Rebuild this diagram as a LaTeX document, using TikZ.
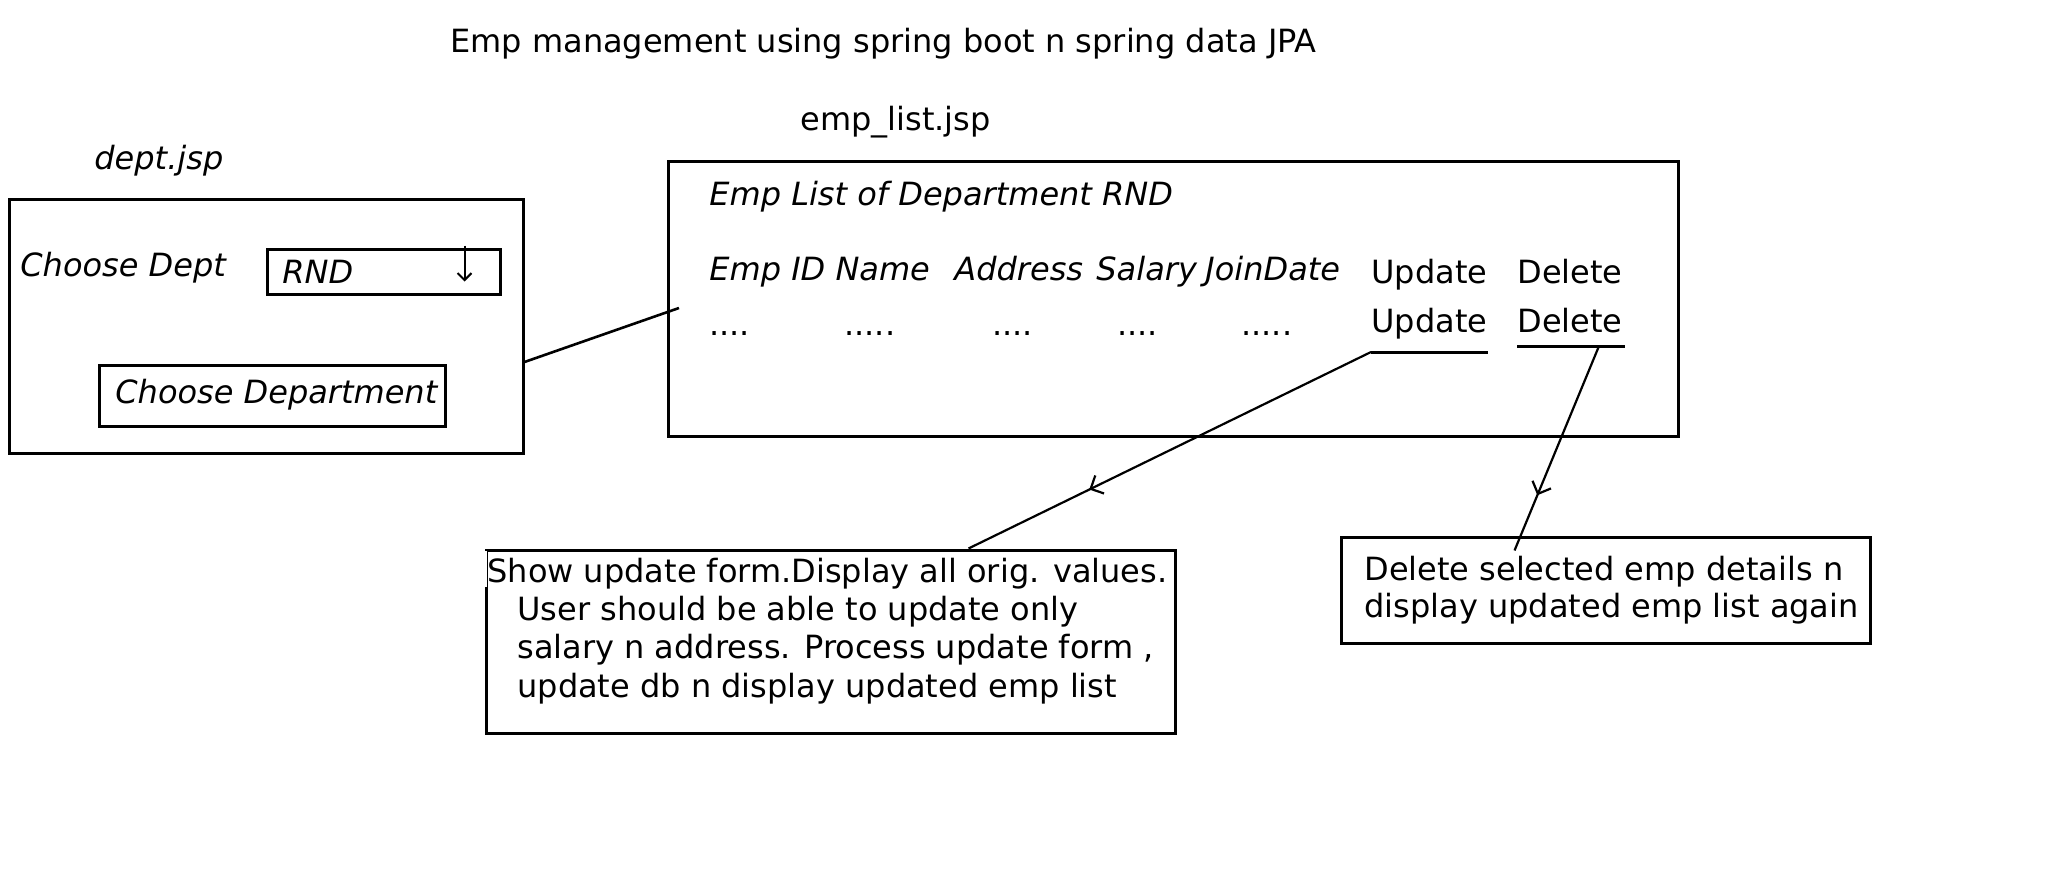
\documentclass[tikz,border=0pt]{standalone}
\usepackage{fontspec}
\setmainfont{DejaVu Sans}
\usetikzlibrary{arrows.meta,decorations.markings,positioning,calc}

\begin{document}
\begin{tikzpicture}[x=0.5pt,y=-0.5pt,
    txt/.style={anchor=base west, inner sep=0pt, font=\fontsize{16}{19}\selectfont},
    itxt/.style={txt, font=\fontsize{16}{19}\selectfont\itshape},
    frame/.style={draw, line width=1.5pt, inner sep=0pt},
    link/.style={line width=1.1pt},
    underl/.style={line width=1.5pt},
    midarrow/.style={link, decoration={markings,
        mark=at position #1 with {\arrow{Straight Barb[length=5pt,width=10pt]}}},
      postaction={decorate}}]
      \fill[white] (0,0) rectangle (2064,888);
      \useasboundingbox (0,0) rectangle (2064,888);
      %
      \node[txt] (title) at (450,53) {Emp management using spring boot n spring data JPA};
      \node[txt] (emplistjsp) at (800,130) {emp\_list.jsp};
      \node[itxt] (deptjsp) at (94,169) {dept.jsp};
      %
      % dept.jsp page
      \node[frame, minimum width=257pt, minimum height=127pt] (dept) at (266,326) {};
      \node[itxt] (choose) at (20,276) {Choose Dept};
      \node[frame, minimum width=116.5pt, minimum height=22.5pt] (rnd) at (383.5,271.5) {};
      \node[itxt] (rndtxt) at (282,283) {RND};
      \draw[line width=1pt, -{Straight Barb[length=3.5pt,width=7pt]}]
        ([xshift=-18.5pt,yshift=1pt]rnd.north east) -- ++(0,36);
      \node[frame, minimum width=173pt, minimum height=30.5pt] (btn) at (272,395.5) {};
      \node[itxt] (btntxt) at (115,403) {Choose Department};
      %
      % emp_list.jsp page
      \node[frame, minimum width=505pt, minimum height=137.5pt] (emp) at (1173,298.5) {};
      \node[itxt] (emphead) at (709,205) {Emp List of Department RND};
      \node[itxt] (colname) at (709,280) {Emp ID Name};
      \node[itxt] (coladdr) at (954,280) {Address};
      \node[itxt] (colsal) at (1096,280) {Salary};
      \node[itxt] (coljoin) at (1205,280) {JoinDate};
      \node[txt] (upd1) at (1371,283) {Update};
      \node[txt] (del1) at (1517,283) {Delete};
      \node[txt] (dotid) at (709,335) {....};
      \node[txt] (dotname) at (844,335) {.....};
      \node[txt] (dotaddr) at (992,335) {....};
      \node[txt] (dotsal) at (1117,335) {....};
      \node[txt] (dotjoin) at (1241,335) {.....};
      \node[txt] (upd2) at (1371,332) {Update};
      \node[txt] (del2) at (1517,332) {Delete};
      \coordinate (updU) at ([yshift=-10pt]upd2.base west);
      \coordinate (delU) at ([yshift=-7pt]del2.base west);
      \draw[underl] (updU) -- ++(117,0);
      \draw[underl] (delU) -- ++(108,0);
      %
      \coordinate (pick) at (679,308);
      \draw[line width=1.3pt] ([yshift=-18pt]dept.east) -- (pick);
      %
      % update form
      \node[frame, minimum width=344.5pt, minimum height=91.5pt] (updbox) at (830.5,641.5) {};
      \fill[white] ([shift={(-2,2)}]updbox.north west) rectangle ([shift={(2,38)}]updbox.north west);
      \node[txt] (upd1l) at (487,582) {Show update form.Display all orig. values.};
      \node[txt] (upd2l) at (517,620) {User should be able to update only};
      \node[txt] (upd3l) at (517,658) {salary n address. Process update form ,};
      \node[txt] (upd4l) at (517,697) {update db n display updated emp list};
      %
      % delete
      \node[frame, minimum width=264.5pt, minimum height=53pt] (delbox) at (1605.5,590) {};
      \node[txt] (del1l) at (1364,580) {Delete selected emp details n};
      \node[txt] (del2l) at (1364,617) {display updated emp list again};
      %
      \draw[midarrow=0.7] (updU) -- ([xshift=242pt]updbox.north west);
      \draw[midarrow=0.73] ([xshift=41pt]delU) -- ([xshift=87.5pt,yshift=-7.5pt]delbox.north west);
    \end{tikzpicture}
\end{document}
